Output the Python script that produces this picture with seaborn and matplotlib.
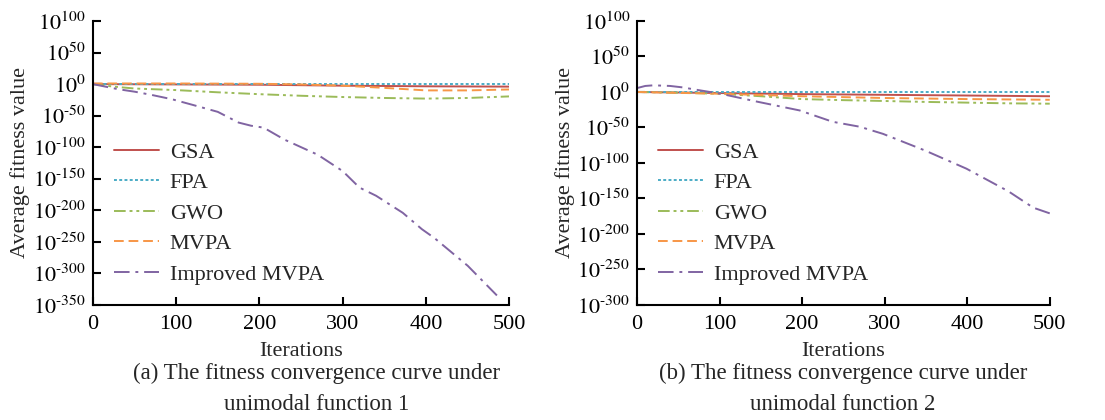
import numpy as np
import pandas as pd
import matplotlib
matplotlib.use("Agg")
import matplotlib.pyplot as plt
from matplotlib.ticker import FuncFormatter
import seaborn as sns

# log10 of average fitness value
# (a) unimodal function 1
f1_gsa_x = [0, 100, 200, 300, 400, 500]
f1_gsa_y = [0, -0.5, -1, -2.5, -3.5, -4]
f1_fpa_x = [0, 100, 200, 300, 400, 500]
f1_fpa_y = [0.5, 0.5, 0.5, 0.5, 0.5, 0.5]
f1_gwo_x = [0, 25, 50, 100, 150, 200, 250, 300, 350, 400, 450, 500]
f1_gwo_y = [0, -4, -7, -9.5, -13, -16, -18.5, -20.5, -22, -23, -22, -19.5]
f1_mvpa_x = [0, 100, 200, 250, 300, 350, 400, 450, 500]
f1_mvpa_y = [1, 1, 0.5, -0.5, -2.5, -6, -10, -10, -8.5]
f1_imp_x = [0, 15, 30, 50, 70, 95, 120, 150, 175, 190, 205, 230, 270, 300,
            320, 340, 372, 395, 410, 450, 485]
f1_imp_y = [0, -4, -8, -12, -17, -24, -33, -44, -61, -66, -69, -88, -112, -138,
            -164, -177, -204, -230, -244, -288, -335]

# (b) unimodal function 2
f2_gsa_x = [0, 100, 200, 300, 400, 500]
f2_gsa_y = [0, -1.5, -3, -4, -5, -6]
f2_fpa_x = [0, 100, 200, 300, 400, 500]
f2_fpa_y = [0.5, 0.5, 0.5, 0.5, 0.5, 0.5]
f2_gwo_x = [0, 50, 100, 150, 200, 250, 300, 350, 400, 450, 500]
f2_gwo_y = [0, -1, -2.5, -6, -10, -11.5, -12.7, -14, -15, -16, -16.5]
f2_mvpa_x = [0, 100, 200, 300, 400, 500]
f2_mvpa_y = [0, -2.5, -6, -8.5, -10, -11]
f2_imp_x = [0, 10, 20, 40, 55, 71, 101, 147, 197, 237, 270, 298, 349, 399,
            450, 480, 500]
f2_imp_y = [5.5, 8.5, 9.4, 8.5, 6.5, 3.3, -2.4, -14, -26, -42, -49, -59, -82.5,
            -108, -140, -163, -171]

names = ["GSA", "FPA", "GWO", "MVPA", "Improved MVPA"]
colors = ["#C0504D", "#4BACC6", "#9BBB59", "#F79646", "#8064A2"]
styles = ["-", (0, (1.5, 1.2)), (0, (6, 2, 1.5, 2, 1.5, 2)), (0, (5, 2.5)),
          (0, (8, 3, 1.5, 3))]

panels = [
    dict(xs=[f1_gsa_x, f1_fpa_x, f1_gwo_x, f1_mvpa_x, f1_imp_x],
         ys=[f1_gsa_y, f1_fpa_y, f1_gwo_y, f1_mvpa_y, f1_imp_y],
         ylim=(-350, 100),
         caption=["(a) The fitness convergence curve under", "unimodal function 1"]),
    dict(xs=[f2_gsa_x, f2_fpa_x, f2_gwo_x, f2_mvpa_x, f2_imp_x],
         ys=[f2_gsa_y, f2_fpa_y, f2_gwo_y, f2_mvpa_y, f2_imp_y],
         ylim=(-300, 100),
         caption=["(b) The fitness convergence curve under", "unimodal function 2"]),
]


def pow_label(v, pos):
    v = int(round(v))
    if v < 0:
        return r"$10^{\text{-}%d}$" % (-v)
    return r"$10^{%d}$" % v


sns.set_theme(style="ticks")
plt.rcParams["font.family"] = ["Liberation Serif", "DejaVu Serif"]
plt.rcParams["mathtext.fontset"] = "stix"

fig = plt.figure(figsize=(11.05, 4.2), dpi=100)
boxes = [[0.084, 0.274, 0.377, 0.676], [0.5765, 0.274, 0.3735, 0.676]]
caption_x = [317 / 1105, 843 / 1105]

for box, cx, p in zip(boxes, caption_x, panels):
    ax = fig.add_axes(box)
    for name, c, ls, x, y in zip(names, colors, styles, p["xs"], p["ys"]):
        sns.lineplot(x=x, y=y, ax=ax, color=c, linestyle=ls, linewidth=1.4, label=name)
    ax.set_xlim(0, 500)
    ax.set_ylim(*p["ylim"])
    ax.set_xticks(range(0, 501, 100))
    ax.set_yticks(range(p["ylim"][0], 101, 50))
    ax.yaxis.set_major_formatter(FuncFormatter(pow_label))
    ax.tick_params(direction="in", length=6, width=1.5, labelsize=16, colors="black")
    ax.tick_params(axis="x", pad=7)
    ax.tick_params(axis="y", pad=5)
    for s in ["top", "right"]:
        ax.spines[s].set_visible(False)
    for s in ["left", "bottom"]:
        ax.spines[s].set_linewidth(1.5)
        ax.spines[s].set_color("black")
    ax.set_xlabel("Iterations", fontsize=16, labelpad=6)
    ax.set_ylabel("Average fitness value", fontsize=16, labelpad=2)
    fig.text(cx, 0.112, p["caption"][0], ha="center", va="center", fontsize=16.5)
    fig.text(cx, 0.036, p["caption"][1], ha="center", va="center", fontsize=16.5)
    ax.legend(loc="upper left", bbox_to_anchor=(0.03, 0.605), frameon=False, fontsize=16,
              handlelength=2.0, handletextpad=0.5, labelspacing=0.45, borderaxespad=0)

fig.savefig("out.png", dpi=100)
